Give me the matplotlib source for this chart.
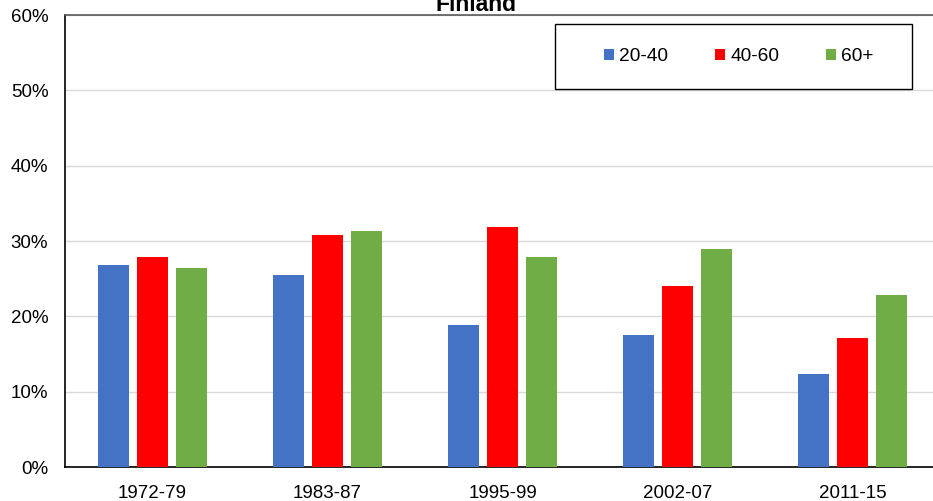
import matplotlib
matplotlib.use('Agg')
import matplotlib.pyplot as plt
import numpy as np
from matplotlib.patches import Rectangle

plt.rcParams['font.family'] = ['Liberation Sans', 'DejaVu Sans']

periods = ['1972-79', '1983-87', '1995-99', '2002-07', '2011-15']
age_groups = ['20-40', '40-60', '60+']
share_20_40 = [26.8, 25.5, 18.9, 17.5, 12.3]
share_40_60 = [27.9, 30.8, 31.9, 24.0, 17.1]
share_60_plus = [26.4, 31.3, 27.9, 28.9, 22.8]
colors = ['#4472c4', '#ff0000', '#70ad47']

fig = plt.figure(figsize=(9.33, 5.01), dpi=100)
# axes run a bit past the right edge, as in the reference
ax = fig.add_axes([65 / 933, 1 - 467 / 501, 875 / 933, 452 / 501])

x = np.arange(len(periods))
width = 0.18
step = 0.223
series = [share_20_40, share_40_60, share_60_plus]
for i, (vals, c, lab) in enumerate(zip(series, colors, age_groups)):
    ax.bar(x + (i - 1) * step, vals, width, color=c, label=lab, zorder=3)

ax.set_xlim(-0.5, len(periods) - 0.5)
ax.set_ylim(0, 60)
ax.set_yticks(range(0, 61, 10))
ax.set_yticklabels([f'{v}%' for v in range(0, 61, 10)])
ax.set_xticks(x)
ax.set_xticklabels(periods)
ax.tick_params(axis='both', length=0, labelsize=13.5, colors='black')
ax.tick_params(axis='y', pad=12)
ax.tick_params(axis='x', pad=13)
ax.yaxis.grid(True, color='#d9d9d9', linewidth=1, zorder=0)
ax.set_axisbelow(True)

ax.spines['right'].set_visible(False)
ax.spines['top'].set_color('#595959')
ax.spines['top'].set_linewidth(1.2)
ax.spines['left'].set_color('black')
ax.spines['bottom'].set_color('black')
ax.spines['left'].set_linewidth(1.2)
ax.spines['bottom'].set_linewidth(1.2)

fig.text(476 / 933, 1 - 11 / 501, 'Finland', ha='center', va='baseline',
         fontsize=16.5, fontweight='bold')

# legend box
fig.patches.append(Rectangle((555 / 933, 1 - 89 / 501), 357 / 933, 65 / 501,
                             transform=fig.transFigure, fill=True, facecolor='white',
                             edgecolor='black', linewidth=1, zorder=5))
leg = fig.legend(loc='center', bbox_to_anchor=(739 / 933, 1 - 56.5 / 501), ncol=3,
                 frameon=False, fontsize=13.75, handlelength=0.5, handleheight=0.5,
                 handletextpad=0.3, columnspacing=2.45)
leg.set_zorder(6)

fig.savefig('out.png', dpi=100)
